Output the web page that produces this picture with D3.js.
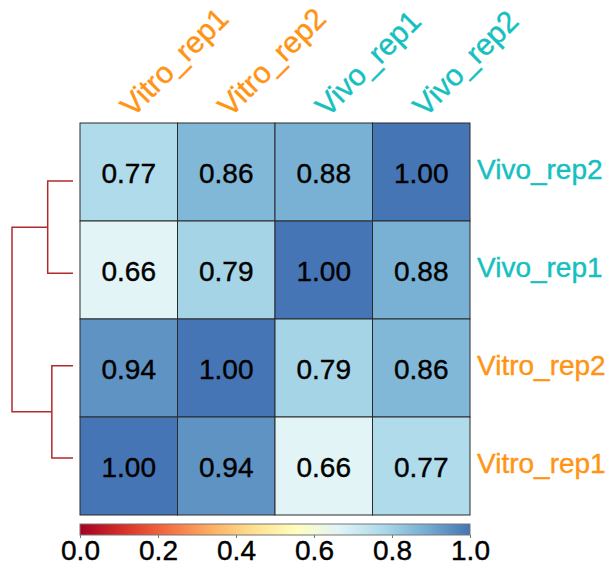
<!DOCTYPE html>
<html>
<head>
<meta charset="utf-8">
<script src="https://cdn.jsdelivr.net/npm/d3@7"></script>
<style>
  body { margin: 0; background: #fff; }
  svg { font-family: "Liberation Sans", Arial, sans-serif; }
</style>
</head>
<body>
<div id="chart"></div>
<script>
// Data
const rowNames = ['Vivo_rep2', 'Vivo_rep1', 'Vitro_rep2', 'Vitro_rep1'];
const colNames = ['Vitro_rep1', 'Vitro_rep2', 'Vivo_rep1', 'Vivo_rep2'];
const values = [
  [0.77, 0.86, 0.88, 1.00],
  [0.66, 0.79, 1.00, 0.88],
  [0.94, 1.00, 0.79, 0.86],
  [1.00, 0.94, 0.66, 0.77]
];
// dendrogram merge heights: Vivo pair, Vitro pair, root
const mergeHeights = [0.214, 0.179, 0.516];
const legendTicks = [0, 0.2, 0.4, 0.6, 0.8, 1.0];
const palette = ['#a50026', '#d73027', '#f46d43', '#fdae61', '#fee090',
                 '#ffffbf', '#e0f3f8', '#abd9e9', '#74add1', '#4575b4'];
const groupColor = { Vitro: '#ff9414', Vivo: '#14c0c0' };

// Configuration
const config = {
  width: 616,
  height: 572,
  left: 80, right: 470, top: 123, bottom: 515,
  fontSize: 28
};

const svg = d3.select('#chart').append('svg')
  .attr('width', config.width)
  .attr('height', config.height);

const x = d3.scaleBand().domain(colNames).range([config.left, config.right]);
const y = d3.scaleBand().domain(rowNames).range([config.top, config.bottom]);
const color = d3.scaleLinear()
  .domain(palette.map((d, i) => i / (palette.length - 1)))
  .range(palette);

const labelColor = name => name.startsWith('Vitro') ? groupColor.Vitro : groupColor.Vivo;

// Cells
const cells = [];
values.forEach((row, i) => row.forEach((v, j) => cells.push({ r: rowNames[i], c: colNames[j], v })));

svg.append('g').selectAll('rect')
  .data(cells)
  .enter().append('rect')
  .attr('x', d => x(d.c))
  .attr('y', d => y(d.r))
  .attr('width', x.bandwidth())
  .attr('height', y.bandwidth())
  .attr('fill', d => color(d.v))
  .attr('stroke', '#2a2a2a')
  .attr('stroke-width', 1);

svg.append('g').selectAll('text')
  .data(cells)
  .enter().append('text')
  .attr('x', d => x(d.c) + x.bandwidth() / 2)
  .attr('y', d => y(d.r) + y.bandwidth() / 2)
  .attr('dy', '0.38em')
  .attr('text-anchor', 'middle')
  .attr('font-size', config.fontSize)
  .attr('fill', '#000')
  .attr('stroke', '#000')
  .attr('stroke-width', 0.4)
  .text(d => d.v.toFixed(2));

// Row labels
svg.append('g').selectAll('text')
  .data(rowNames)
  .enter().append('text')
  .attr('x', config.right + 7)
  .attr('y', d => y(d) + y.bandwidth() / 2)
  .attr('dy', '0.25em')
  .attr('font-size', config.fontSize)
  .attr('fill', labelColor)
  .attr('stroke', labelColor)
  .attr('stroke-width', 0.4)
  .text(d => d);

// Column labels
svg.append('g').selectAll('text')
  .data(colNames)
  .enter().append('text')
  .attr('transform', d => `translate(${x(d) + x.bandwidth() / 2 + 4},118) rotate(-45)`)
  .attr('font-size', 30)
  .attr('fill', labelColor)
  .attr('stroke', labelColor)
  .attr('stroke-width', 0.4)
  .text(d => d);

// Dendrogram (rows)
const leafY = d3.scalePoint().domain(rowNames).range([181, 458]);
const hx = d3.scaleLinear().domain([0, mergeHeights[2]]).range([73, 12]);
const dend = svg.append('g')
  .attr('fill', 'none')
  .attr('stroke', '#b22a2a')
  .attr('stroke-width', 1.5);

const pairs = [[rowNames[0], rowNames[1], mergeHeights[0]], [rowNames[2], rowNames[3], mergeHeights[1]]];
const mids = [];
pairs.forEach(([a, b, h]) => {
  const ya = leafY(a), yb = leafY(b), xm = hx(h);
  dend.append('path').attr('d', `M${hx(0)},${ya}H${xm}V${yb}H${hx(0)}`);
  mids.push({ y: (ya + yb) / 2, x: xm });
});
dend.append('path')
  .attr('d', `M${mids[0].x},${mids[0].y}H${hx(mergeHeights[2])}V${mids[1].y}H${mids[1].x}`);

// Colour legend
const lx = d3.scaleLinear().domain([0, 1]).range([config.left, config.right]);
const defs = svg.append('defs');
const grad = defs.append('linearGradient').attr('id', 'grad');
d3.range(0, 1.0001, 0.02).forEach(t => {
  grad.append('stop').attr('offset', t).attr('stop-color', color(t));
});
svg.append('rect')
  .attr('x', lx(0))
  .attr('y', 524)
  .attr('width', lx(1) - lx(0))
  .attr('height', 11)
  .attr('fill', 'url(#grad)')
  .attr('stroke', '#777')
  .attr('stroke-width', 1);

const axis = svg.append('g')
  .attr('transform', 'translate(0,535)')
  .call(d3.axisBottom(lx).tickValues(legendTicks).tickFormat(d3.format('.1f')).tickSize(3).tickPadding(2));
axis.select('.domain').remove();
axis.selectAll('line').attr('stroke', '#777');
axis.selectAll('text')
  .attr('font-size', config.fontSize)
  .attr('font-family', '"Liberation Sans", Arial, sans-serif')
  .attr('fill', '#000')
  .attr('stroke', '#000')
  .attr('stroke-width', 0.4);
</script>
</body>
</html>
